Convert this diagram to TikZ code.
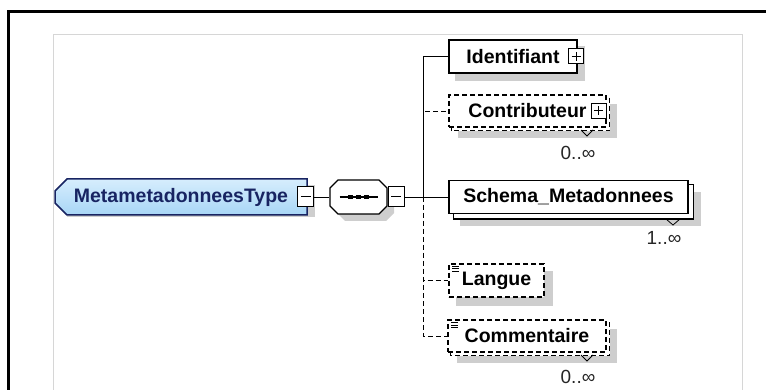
\documentclass[tikz,border=0pt]{standalone}
\usepackage{fontspec}
\setmainfont{Liberation Sans}
\usetikzlibrary{shapes.misc, backgrounds, positioning}

\definecolor{typeblue}{RGB}{168,214,246}
\definecolor{typetop}{RGB}{214,237,253}
\definecolor{typenavy}{RGB}{24,36,98}
\definecolor{shadowgray}{RGB}{206,206,206}
\definecolor{framegray}{RGB}{214,214,214}

\tikzset{
  elem/.style={rectangle, draw=black, fill=white, line width=1.3pt, inner sep=0pt,
    font=\fontsize{19.5}{22}\selectfont\bfseries},
  optelem/.style={elem, dash pattern=on 5pt off 3pt},
  roottype/.style={chamfered rectangle, chamfered rectangle corners={north west, south west},
    chamfered rectangle sep=6pt, draw=typenavy, line width=1.5pt, top color=typetop,
    bottom color=typeblue, text=typenavy, inner sep=0pt,
    font=\fontsize{19.5}{22}\selectfont\bfseries},
  seqbox/.style={rectangle, inner sep=0pt, minimum width=57pt, minimum height=34pt},
  minusbox/.style={rectangle, draw=black, fill=white, line width=1pt, inner sep=0pt,
    minimum width=16pt, minimum height=20pt,
    path picture={\draw[line width=1pt] ([xshift=3pt]path picture bounding box.west)
      -- ([xshift=-3pt]path picture bounding box.east);}},
  plusbox/.style={minusbox, minimum width=15pt, minimum height=15pt,
    path picture={\draw[line width=1pt] ([xshift=3pt]path picture bounding box.west)
      -- ([xshift=-3pt]path picture bounding box.east);
      \draw[line width=1pt] ([yshift=-3pt]path picture bounding box.north)
      -- ([yshift=3pt]path picture bounding box.south);}},
  occurs/.style={font=\fontsize{19}{22}\selectfont, text=black!85, inner sep=0pt}
}

% gray offset shadow behind a node
\newcommand{\boxshadow}[2]{%
  \fill[shadowgray] ([shift={(#2,-#2)}]#1.south west) rectangle ([shift={(#2,-#2)}]#1.north east);}
% second box behind a repeated element
\newcommand{\boxcopy}[3][]{%
  \draw[fill=white, line width=1.3pt, #1] ([shift={(#3,-#3)}]#2.south west) rectangle ([shift={(#3,-#3)}]#2.north east);}
\newcommand{\listmark}[1]{%
  \foreach \dy in {3,5.5,8}
    \draw[line width=0.7pt] ([xshift=4pt, yshift=-\dy pt]#1.north west) -- ++(7,0);}
\newcommand{\seqoctagon}{(338,180) -- (379,180) -- (387,188) -- (387,206) -- (379,214) -- (338,214) -- (330,206) -- (330,188) -- cycle}

\begin{document}
\begin{tikzpicture}[x=1pt, y=-1pt, line width=1.3pt]
  \useasboundingbox (0,0) rectangle (766,390);
  % frames
  \draw[line width=3pt] (8,395) -- (8,12) -- (770,12);
  \draw[framegray, line width=1pt] (53,395) -- (53,35) -- (742,35) -- (742,395);

  % complex type and its sequence
  \node[roottype, minimum width=252pt, minimum height=36pt] (root) at (181,197) {MetametadonneesType\hspace{17pt}};
  \node[minusbox] (rootminus) at ([xshift=-2pt]root.east) {};
  \begin{scope}[shift={(7,7)}]
    \fill[shadowgray] \seqoctagon;
  \end{scope}
  \draw[fill=white, line width=1.2pt] \seqoctagon;
  \node[seqbox] (seq) at (358.5,197) {};
  \node[minusbox, anchor=west] (seqminus) at (seq.east) {};
  \draw[line width=1.2pt] ([xshift=-19pt]seq.center) -- ([xshift=19pt]seq.center);
  \foreach \dx in {-8,0,8}
    \fill ([xshift=\dx pt]seq.center) +(-2.2,-2.2) rectangle +(2.2,2.2);

  % child elements
  \coordinate (bus) at (423,197);
  \node[elem, minimum width=128pt, minimum height=33pt] (ident) at (513,56.5) {Identifiant\hspace{12pt}};
  \node[plusbox] (identplus) at ([xshift=-1.5pt]ident.east) {};
  \node[optelem, minimum width=157pt, minimum height=32pt] (contrib) at (527.5,111) {Contributeur\hspace{22pt}};
  \node[plusbox] (contribplus) at ([xshift=-8pt]contrib.east) {};
  \node[elem, minimum width=239pt, minimum height=33pt] (schema) at (568.5,197) {Schema\_Metadonnees};
  \node[optelem, minimum width=95pt, minimum height=33pt] (langue) at (496.5,280.5) {Langue};
  \node[optelem, minimum width=158pt, minimum height=32pt] (comment) at (527,336) {Commentaire\hspace{4pt}};
  \listmark{langue}
  \listmark{comment}

  % shadows and stacked copies
  \begin{pgfonlayer}{background}
    \boxshadow{root}{7pt}
    \boxshadow{ident}{7pt}
    \boxshadow{contrib}{10pt}
    \boxshadow{schema}{12pt}
    \boxshadow{langue}{8pt}
    \boxshadow{comment}{10pt}
    \boxcopy[dash pattern=on 5pt off 3pt]{contrib}{3pt}
    \boxcopy{schema}{5pt}
    \boxcopy[dash pattern=on 5pt off 3pt]{comment}{3pt}
  \end{pgfonlayer}

  % occurrences
  \draw[line width=0.8pt] (581,130) -- (587,136) -- (593,130);
  \draw[line width=0.8pt] (666,219) -- (673,225) -- (680,219);
  \draw[line width=0.8pt] (581,355) -- (587,361) -- (593,355);
  \node[occurs] (contribocc) at (578,153) {0..∞};
  \node[occurs] (schemaocc) at (664,238) {1..∞};
  \node[occurs] (commentocc) at (578,377) {0..∞};

  % connectors
  \draw (rootminus) -- (seq);
  \draw (seqminus.east) -- (schema.west);
  \draw (bus) |- (ident.west);
  \draw[dash pattern=on 5pt off 3pt] (bus) |- (contrib.west);
  \draw[dash pattern=on 5pt off 3pt] (bus) |- (langue.west);
  \draw[dash pattern=on 5pt off 3pt] (bus) |- (comment.west);
\end{tikzpicture}
\end{document}
